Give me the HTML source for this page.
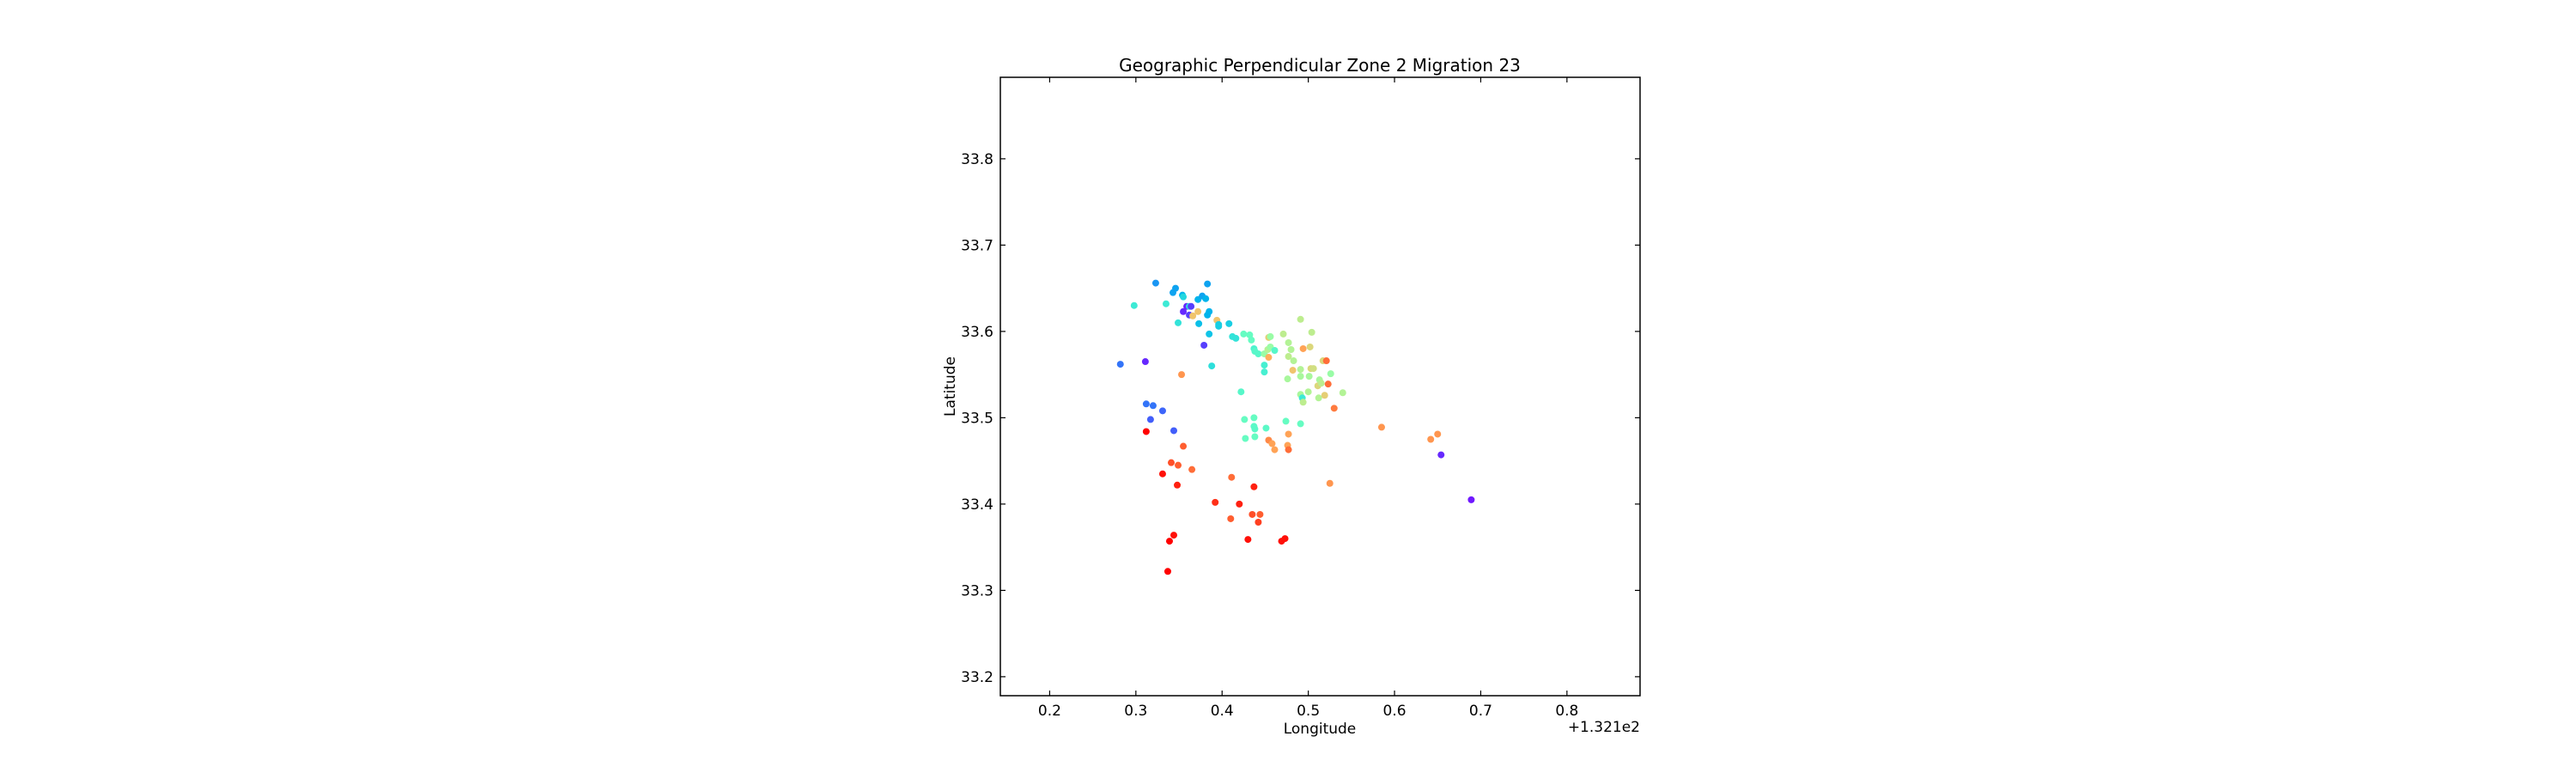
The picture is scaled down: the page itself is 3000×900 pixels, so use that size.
<!DOCTYPE html>
<html><head><meta charset="utf-8"><style>
html,body{margin:0;padding:0;background:#fff;}
svg{display:block;font-family:"DejaVu Sans","Liberation Sans",sans-serif;}
</style></head><body>
<svg id="chart" width="3000" height="900" viewBox="0 0 3000 900">
<rect x="0" y="0" width="3000" height="900" fill="#fff"/>
<text x="1537" y="83" text-anchor="middle" font-size="20">Geographic Perpendicular Zone 2 Migration 23</text>
<text x="1537" y="854" text-anchor="middle" font-size="17">Longitude</text>
<text x="1112" y="450" text-anchor="middle" font-size="17" transform="rotate(-90 1112 450)">Latitude</text>
<text x="1910" y="852" text-anchor="end" font-size="17">+1.321e2</text>
<g id="marks"></g>
<g id="axes"></g>
<rect x="1165" y="90" width="745" height="720" fill="none" stroke="#000" stroke-width="1.5"/>
</svg>
<script>
const xTicks = [0.2,0.3,0.4,0.5,0.6,0.7,0.8];
const xTickLabels = ["0.2","0.3","0.4","0.5","0.6","0.7","0.8"];
const yTicks = [33.2,33.3,33.4,33.5,33.6,33.7,33.8];
const yTickLabels = ["33.2","33.3","33.4","33.5","33.6","33.7","33.8"];
const lon = [.323,.298,.335,.343,.346,.354,.355,.359,.362,.364,.355,.362,.366,.372,.372,.377,.381,.383,.385,.383,.349,.373,.394,.396,.396,.408,.385,.379,.282,.311,.353,.388,.412,.416,.425,.432,.434,.437,.438,.442,.449,.453,.454,.456,.456,.461,.454,.471,.491,.477,.480,.477,.483,.482,.491,.476,.491,.494,.502,.504,.517,.521,.503,.506,.501,.513,.526,.511,.515,.523,.500,.491,.493,.494,.512,.519,.540,.530,.449,.449,.422,.426,.437,.437,.438,.427,.438,.451,.474,.491,.454,.458,.461,.477,.476,.477,.585,.642,.650,.654,.689,.312,.320,.331,.317,.344,.312,.355,.341,.349,.365,.331,.348,.411,.437,.525,.392,.420,.410,.435,.444,.442,.344,.339,.430,.469,.473,.337];
const lat = [33.656,33.630,33.632,33.645,33.650,33.642,33.640,33.629,33.629,33.629,33.623,33.619,33.618,33.623,33.637,33.641,33.638,33.655,33.623,33.619,33.610,33.609,33.613,33.608,33.606,33.609,33.597,33.584,33.562,33.565,33.550,33.560,33.594,33.592,33.597,33.596,33.590,33.580,33.577,33.574,33.574,33.579,33.593,33.594,33.582,33.578,33.570,33.597,33.614,33.587,33.579,33.571,33.566,33.555,33.556,33.545,33.548,33.580,33.582,33.599,33.566,33.566,33.557,33.557,33.548,33.544,33.551,33.537,33.540,33.539,33.530,33.527,33.523,33.518,33.523,33.526,33.529,33.511,33.561,33.553,33.530,33.498,33.500,33.490,33.487,33.476,33.478,33.488,33.496,33.493,33.474,33.470,33.463,33.481,33.468,33.463,33.489,33.475,33.481,33.457,33.405,33.516,33.514,33.508,33.498,33.485,33.484,33.467,33.448,33.445,33.440,33.435,33.422,33.431,33.420,33.424,33.402,33.400,33.383,33.388,33.388,33.379,33.364,33.357,33.359,33.357,33.360,33.322];
const colorVal = [.2,.37,.37,.22,.22,.25,.32,.05,.35,.08,.05,.08,.72,.72,.25,.22,.25,.22,.25,.25,.35,.27,.72,.3,.3,.3,.28,.08,.15,.05,.8,.34,.35,.35,.45,.45,.45,.4,.42,.42,.55,.6,.7,.55,.55,.42,.76,.62,.62,.6,.6,.62,.6,.72,.6,.58,.58,.78,.68,.62,.68,.86,.68,.66,.58,.58,.55,.68,.62,.86,.6,.58,.37,.62,.6,.7,.6,.84,.39,.39,.42,.45,.45,.43,.43,.45,.45,.43,.45,.45,.82,.78,.78,.78,.78,.86,.8,.8,.8,.05,.03,.15,.15,.13,.12,.12,1,.88,.9,.88,.86,.98,.96,.86,.96,.8,.94,.96,.88,.9,.88,.92,.98,1,.98,.98,.98,1];

const X0=1165,X1=1910,Y0=90,Y1=810;
const xmin=0.1428,xmax=0.8848,ymin=33.178,ymax=33.8944;
function xs(v){return X0+(v-xmin)/(xmax-xmin)*(X1-X0);}
function ys(v){return Y1-(v-ymin)/(ymax-ymin)*(Y1-Y0);}
function rainbow(t){
  const r=Math.min(1,Math.abs(2*t-0.5)), g=Math.sin(Math.PI*t), b=Math.cos(Math.PI*t/2);
  return `rgb(${Math.round(r*255)},${Math.round(g*255)},${Math.round(b*255)})`;
}
const NS="http://www.w3.org/2000/svg";
const marks=document.getElementById('marks');
for(let i=0;i<lon.length;i++){
  const c=document.createElementNS(NS,'circle');
  c.setAttribute('cx',xs(lon[i]));c.setAttribute('cy',ys(lat[i]));c.setAttribute('r',4);
  c.setAttribute('fill',rainbow(colorVal[i]));
  
  
  marks.appendChild(c);
}
const axes=document.getElementById('axes');
function line(x1,y1,x2,y2,name){
  const l=document.createElementNS(NS,'line');
  l.setAttribute('x1',x1);l.setAttribute('y1',y1);l.setAttribute('x2',x2);l.setAttribute('y2',y2);
  l.setAttribute('stroke','#000');l.setAttribute('stroke-width',1.2);
  
  
  axes.appendChild(l);
}
function txt(x,y,s,anchor,name){
  const t=document.createElementNS(NS,'text');
  t.setAttribute('x',x);t.setAttribute('y',y);t.setAttribute('text-anchor',anchor);t.setAttribute('font-size',17);
  t.textContent=s;
  
  
  axes.appendChild(t);
}
xTicks.forEach((v,i)=>{const x=xs(v);
  line(x,Y1,x,Y1-6,'x-tick');line(x,Y0,x,Y0+6,'x-tick-top');
  txt(x,833,xTickLabels[i],'middle','x-tick-label');});
yTicks.forEach((v,i)=>{const y=ys(v);
  line(X0,y,X0+6,y,'y-tick');line(X1,y,X1-6,y,'y-tick-right');
  txt(1157,y+6,yTickLabels[i],'end','y-tick-label');});
</script>
</body></html>
